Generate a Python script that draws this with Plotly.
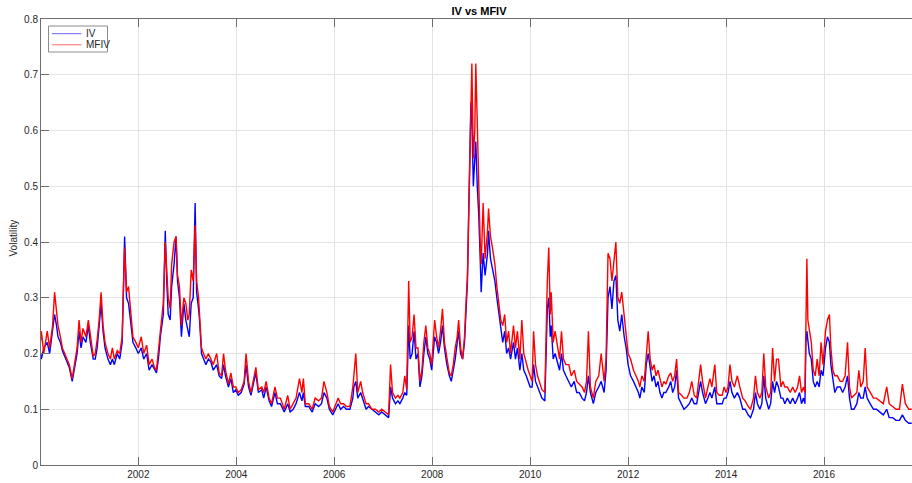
import plotly.graph_objects as go

# Sample dates as decimal years, with implied volatility (IV) and
# model-free implied volatility (MFIV) at each date.
years = [
    # 2000 - mid 2002
    2000.00, 2000.02, 2000.07, 2000.14, 2000.19, 2000.25, 2000.29, 2000.33, 2000.36, 2000.41,
    2000.45, 2000.52, 2000.59, 2000.65, 2000.69, 2000.75, 2000.79, 2000.83, 2000.87, 2000.93,
    2000.98, 2001.02, 2001.08, 2001.12, 2001.16, 2001.20, 2001.24, 2001.28, 2001.32, 2001.38,
    2001.43, 2001.47, 2001.51, 2001.57, 2001.62, 2001.67, 2001.69, 2001.72, 2001.76, 2001.80,
    2001.84, 2001.89, 2001.95, 2002.00, 2002.06, 2002.11, 2002.17, 2002.22, 2002.28, 2002.33,
    2002.37, 2002.41, 2002.45, 2002.51, 2002.55,
    # mid 2002 - 2005
    2002.58, 2002.61, 2002.65, 2002.68, 2002.73, 2002.77, 2002.80, 2002.84, 2002.88, 2002.93,
    2002.97, 2003.01, 2003.04, 2003.08, 2003.12, 2003.16, 2003.19, 2003.23, 2003.25, 2003.29,
    2003.33, 2003.38, 2003.43, 2003.48, 2003.53, 2003.60, 2003.65, 2003.70, 2003.74, 2003.78,
    2003.84, 2003.89, 2003.94, 2003.99, 2004.04, 2004.10, 2004.16, 2004.20, 2004.25, 2004.30,
    2004.36, 2004.40, 2004.45, 2004.52, 2004.56, 2004.61, 2004.67, 2004.72, 2004.79, 2004.84,
    2004.90, 2004.98, 2005.05,
    # 2005 - early 2007
    2005.10, 2005.16, 2005.22, 2005.29, 2005.34, 2005.37, 2005.41, 2005.48, 2005.55, 2005.61,
    2005.68, 2005.74, 2005.79, 2005.85, 2005.90, 2005.97, 2006.02, 2006.08, 2006.13, 2006.19,
    2006.25, 2006.32, 2006.38, 2006.40, 2006.44, 2006.48, 2006.54, 2006.58, 2006.65, 2006.70,
    2006.77, 2006.84, 2006.91, 2006.97, 2007.04, 2007.11, 2007.15, 2007.19, 2007.25, 2007.30,
    # 2007 - 2009 (crisis)
    2007.34, 2007.40, 2007.44, 2007.48, 2007.52, 2007.55, 2007.59, 2007.63, 2007.67, 2007.71,
    2007.75, 2007.79, 2007.83, 2007.87, 2007.91, 2007.95, 2007.99, 2008.05, 2008.09, 2008.13,
    2008.17, 2008.21, 2008.25, 2008.30, 2008.35, 2008.39, 2008.43, 2008.47, 2008.51, 2008.54,
    2008.58, 2008.62, 2008.66, 2008.69, 2008.72, 2008.74, 2008.77, 2008.79, 2008.81, 2008.84,
    2008.87, 2008.89, 2008.92, 2008.95, 2008.98, 2009.00, 2009.04, 2009.08, 2009.13, 2009.15,
    2009.19, 2009.23, 2009.28, 2009.32, 2009.36, 2009.40, 2009.44, 2009.48, 2009.52, 2009.56,
    2009.60, 2009.66, 2009.70, 2009.74,
    # late 2009 - 2012
    2009.79, 2009.83, 2009.87, 2009.92, 2009.96, 2010.00, 2010.04, 2010.07, 2010.11, 2010.15,
    2010.19, 2010.24, 2010.30, 2010.32, 2010.35, 2010.38, 2010.41, 2010.43, 2010.47, 2010.51,
    2010.56, 2010.60, 2010.64, 2010.68, 2010.73, 2010.79, 2010.84, 2010.90, 2010.95, 2011.00,
    2011.06, 2011.11, 2011.15, 2011.19, 2011.23, 2011.29, 2011.34, 2011.40, 2011.45, 2011.51,
    2011.55, 2011.59, 2011.63, 2011.67, 2011.71, 2011.75, 2011.79, 2011.83, 2011.87, 2011.92,
    2011.96, 2012.00, 2012.05, 2012.11, 2012.16, 2012.21,
    # 2012 - 2014
    2012.24, 2012.28, 2012.33, 2012.37, 2012.41, 2012.45, 2012.49, 2012.53, 2012.57, 2012.61,
    2012.65, 2012.69, 2012.73, 2012.77, 2012.83, 2012.87, 2012.91, 2012.95, 2012.99, 2013.03,
    2013.09, 2013.14, 2013.20, 2013.25, 2013.30, 2013.35, 2013.40, 2013.45, 2013.48, 2013.52,
    2013.58, 2013.63, 2013.67, 2013.71, 2013.77, 2013.81, 2013.86, 2013.92, 2013.96, 2014.00,
    2014.04, 2014.08, 2014.12, 2014.17, 2014.23, 2014.28, 2014.34, 2014.39, 2014.45, 2014.50,
    2014.56, 2014.60, 2014.64,
    # 2014 - 2017
    2014.69, 2014.73, 2014.77, 2014.81, 2014.87, 2014.91, 2014.95, 2014.99, 2015.03, 2015.07,
    2015.12, 2015.16, 2015.20, 2015.25, 2015.31, 2015.36, 2015.41, 2015.46, 2015.50, 2015.54,
    2015.58, 2015.61, 2015.63, 2015.65, 2015.67, 2015.70, 2015.74, 2015.78, 2015.82, 2015.86,
    2015.90, 2015.94, 2015.98, 2016.03, 2016.07, 2016.11, 2016.14, 2016.18, 2016.22, 2016.27,
    2016.33, 2016.38, 2016.43, 2016.48, 2016.52, 2016.56, 2016.61, 2016.67, 2016.71, 2016.75,
    2016.80, 2016.84, 2016.88, 2016.94, 2017.01, 2017.07, 2017.14, 2017.21, 2017.28, 2017.33,
    2017.40, 2017.47, 2017.54, 2017.60, 2017.66, 2017.73, 2017.79,
]

iv = [
    0.20, 0.19, 0.21, 0.22, 0.20, 0.24, 0.27, 0.25, 0.23, 0.22,
    0.205, 0.19, 0.175, 0.15, 0.17, 0.20, 0.24, 0.21, 0.23, 0.22,
    0.25, 0.22, 0.19, 0.19, 0.21, 0.25, 0.29, 0.24, 0.21, 0.19,
    0.18, 0.19, 0.18, 0.20, 0.19, 0.22, 0.30, 0.41, 0.30, 0.29,
    0.26, 0.22, 0.21, 0.20, 0.21, 0.19, 0.20, 0.17, 0.18, 0.17,
    0.165, 0.19, 0.23, 0.27, 0.42,

    0.33, 0.27, 0.26, 0.32, 0.36, 0.41, 0.33, 0.30, 0.23, 0.29,
    0.26, 0.24, 0.23, 0.29, 0.30, 0.47, 0.31, 0.28, 0.26, 0.20,
    0.19, 0.18, 0.19, 0.185, 0.17, 0.18, 0.16, 0.155, 0.18, 0.16,
    0.14, 0.155, 0.13, 0.135, 0.125, 0.13, 0.145, 0.18, 0.14, 0.125,
    0.15, 0.165, 0.13, 0.135, 0.12, 0.14, 0.115, 0.105, 0.13, 0.11,
    0.11, 0.095, 0.11,

    0.095, 0.10, 0.11, 0.13, 0.115, 0.13, 0.105, 0.105, 0.095, 0.11,
    0.105, 0.11, 0.13, 0.12, 0.10, 0.09, 0.10, 0.11, 0.10, 0.105,
    0.10, 0.10, 0.12, 0.14, 0.15, 0.12, 0.13, 0.12, 0.10, 0.105,
    0.10, 0.095, 0.09, 0.095, 0.09, 0.085, 0.14, 0.12, 0.11, 0.115,

    0.11, 0.12, 0.13, 0.125, 0.25, 0.19, 0.20, 0.24, 0.19, 0.20,
    0.14, 0.16, 0.20, 0.23, 0.20, 0.19, 0.17, 0.23, 0.22, 0.20,
    0.22, 0.25, 0.21, 0.18, 0.16, 0.15, 0.17, 0.19, 0.22, 0.24,
    0.20, 0.19, 0.22, 0.28, 0.33, 0.43, 0.60, 0.65, 0.62, 0.50,
    0.55, 0.58, 0.50, 0.45, 0.37, 0.31, 0.38, 0.34, 0.38, 0.42,
    0.37, 0.35, 0.33, 0.30, 0.27, 0.24, 0.22, 0.24, 0.20, 0.21,
    0.19, 0.22, 0.19, 0.21,

    0.17, 0.20, 0.17, 0.16, 0.15, 0.14, 0.14, 0.18, 0.15, 0.14,
    0.13, 0.12, 0.115, 0.18, 0.28, 0.30, 0.23, 0.25, 0.19, 0.20,
    0.18, 0.17, 0.20, 0.17, 0.16, 0.15, 0.14, 0.15, 0.13, 0.13,
    0.12, 0.115, 0.13, 0.16, 0.13, 0.11, 0.13, 0.14, 0.15, 0.13,
    0.17, 0.30, 0.32, 0.28, 0.33, 0.34, 0.26, 0.24, 0.27, 0.23,
    0.21, 0.18, 0.16, 0.15, 0.14, 0.13,

    0.12, 0.14, 0.13, 0.18, 0.20, 0.17, 0.15, 0.16, 0.14, 0.15,
    0.13, 0.12, 0.13, 0.13, 0.14, 0.15, 0.13, 0.14, 0.17, 0.12,
    0.11, 0.10, 0.105, 0.11, 0.12, 0.11, 0.11, 0.14, 0.15, 0.13,
    0.11, 0.12, 0.13, 0.12, 0.14, 0.11, 0.11, 0.11, 0.12, 0.12,
    0.13, 0.15, 0.13, 0.12, 0.13, 0.12, 0.10, 0.10, 0.09, 0.085,
    0.10, 0.13, 0.11,

    0.10, 0.11, 0.16, 0.12, 0.10, 0.11, 0.15, 0.13, 0.15, 0.14,
    0.12, 0.12, 0.11, 0.12, 0.11, 0.12, 0.11, 0.12, 0.13, 0.11,
    0.12, 0.11, 0.22, 0.24, 0.22, 0.20, 0.19, 0.15, 0.14, 0.15,
    0.14, 0.17, 0.16, 0.21, 0.23, 0.22, 0.18, 0.15, 0.13, 0.14,
    0.14, 0.13, 0.14, 0.16, 0.12, 0.10, 0.10, 0.11, 0.13, 0.12,
    0.12, 0.14, 0.12, 0.11, 0.10, 0.10, 0.095, 0.09, 0.10, 0.085,
    0.085, 0.08, 0.08, 0.09, 0.08, 0.075, 0.075,
]

mfiv = [
    0.22, 0.24, 0.20, 0.24, 0.21, 0.25, 0.31, 0.28, 0.25, 0.23,
    0.21, 0.195, 0.18, 0.155, 0.175, 0.21, 0.26, 0.22, 0.245, 0.23,
    0.26, 0.23, 0.195, 0.20, 0.225, 0.26, 0.31, 0.25, 0.22, 0.20,
    0.19, 0.21, 0.19, 0.205, 0.20, 0.23, 0.30, 0.39, 0.31, 0.32,
    0.28, 0.23, 0.22, 0.21, 0.23, 0.20, 0.215, 0.18, 0.19, 0.175,
    0.17, 0.21, 0.24, 0.29, 0.40,

    0.35, 0.30, 0.28, 0.36, 0.40, 0.41, 0.34, 0.32, 0.25, 0.30,
    0.29, 0.26, 0.27, 0.35, 0.33, 0.43, 0.33, 0.30, 0.27, 0.21,
    0.20, 0.19, 0.20, 0.19, 0.18, 0.20, 0.165, 0.16, 0.20, 0.17,
    0.145, 0.165, 0.14, 0.14, 0.13, 0.135, 0.15, 0.20, 0.15, 0.13,
    0.16, 0.175, 0.135, 0.14, 0.13, 0.15, 0.12, 0.11, 0.14, 0.12,
    0.12, 0.10, 0.125,

    0.10, 0.11, 0.12, 0.155, 0.13, 0.155, 0.11, 0.11, 0.10, 0.12,
    0.115, 0.12, 0.15, 0.13, 0.105, 0.095, 0.105, 0.12, 0.11, 0.11,
    0.105, 0.105, 0.14, 0.165, 0.20, 0.13, 0.15, 0.13, 0.11, 0.11,
    0.10, 0.10, 0.095, 0.10, 0.095, 0.09, 0.18, 0.13, 0.12, 0.125,

    0.12, 0.13, 0.16, 0.135, 0.33, 0.22, 0.23, 0.27, 0.21, 0.21,
    0.15, 0.17, 0.22, 0.25, 0.21, 0.20, 0.18, 0.26, 0.23, 0.21,
    0.24, 0.28, 0.22, 0.19, 0.165, 0.16, 0.18, 0.21, 0.23, 0.26,
    0.21, 0.19, 0.23, 0.29, 0.34, 0.42, 0.55, 0.60, 0.72, 0.55,
    0.60, 0.72, 0.60, 0.52, 0.40, 0.36, 0.47, 0.37, 0.42, 0.46,
    0.41, 0.39, 0.36, 0.32, 0.29, 0.26, 0.25, 0.27, 0.22, 0.24,
    0.20, 0.25, 0.21, 0.24,

    0.19, 0.26, 0.20, 0.18, 0.17, 0.16, 0.15, 0.24, 0.18, 0.16,
    0.15, 0.135, 0.13, 0.22, 0.33, 0.39, 0.27, 0.31, 0.22, 0.24,
    0.21, 0.19, 0.24, 0.19, 0.18, 0.18, 0.16, 0.17, 0.15, 0.145,
    0.14, 0.13, 0.15, 0.24, 0.14, 0.12, 0.15, 0.16, 0.20, 0.15,
    0.19, 0.38, 0.37, 0.33, 0.36, 0.40, 0.30, 0.29, 0.31, 0.27,
    0.23, 0.20, 0.19, 0.17, 0.16, 0.15,

    0.14, 0.16, 0.15, 0.20, 0.24, 0.19, 0.17, 0.18, 0.16, 0.17,
    0.155, 0.14, 0.15, 0.145, 0.16, 0.165, 0.15, 0.16, 0.19, 0.13,
    0.125, 0.12, 0.12, 0.13, 0.15, 0.125, 0.12, 0.16, 0.18, 0.15,
    0.12, 0.14, 0.155, 0.14, 0.18, 0.13, 0.125, 0.125, 0.14, 0.13,
    0.14, 0.18, 0.15, 0.14, 0.16, 0.14, 0.12, 0.115, 0.105, 0.10,
    0.12, 0.16, 0.13,

    0.12, 0.13, 0.20, 0.14, 0.12, 0.13, 0.21, 0.15, 0.19, 0.19,
    0.14, 0.15, 0.14, 0.14, 0.13, 0.14, 0.13, 0.14, 0.16, 0.13,
    0.14, 0.13, 0.25, 0.37, 0.26, 0.24, 0.22, 0.17, 0.16, 0.19,
    0.16, 0.22, 0.18, 0.24, 0.26, 0.27, 0.21, 0.17, 0.16, 0.16,
    0.15, 0.15, 0.16, 0.22, 0.14, 0.12, 0.125, 0.13, 0.17, 0.14,
    0.15, 0.21, 0.14, 0.13, 0.12, 0.12, 0.115, 0.11, 0.14, 0.11,
    0.105, 0.10, 0.10, 0.145, 0.11, 0.10, 0.10,
]

assert len(years) == len(iv) == len(mfiv)

x_tick_years = [2002, 2004, 2006, 2008, 2010, 2012, 2014, 2016]
y_tick_values = [0, 0.1, 0.2, 0.3, 0.4, 0.5, 0.6, 0.7, 0.8]
y_tick_labels = ["0", "0.1", "0.2", "0.3", "0.4", "0.5", "0.6", "0.7", "0.8"]

FONT = "Liberation Sans, Arial, sans-serif"
TEXT = "#262626"
AXIS = "#6e6e6e"
GRID = "#e3e3e3"
BLUE = "#0000ff"
RED = "#ff0000"

fig = go.Figure()
fig.add_trace(go.Scatter(x=years, y=iv, mode="lines", name="IV",
                         line=dict(color=BLUE, width=1.4)))
fig.add_trace(go.Scatter(x=years, y=mfiv, mode="lines", name="MFIV",
                         line=dict(color=RED, width=1.4)))

fig.update_layout(
    width=912, height=483,
    margin=dict(l=41, r=0, t=19, b=18, pad=0),
    paper_bgcolor="white", plot_bgcolor="white",
    showlegend=False,
    font=dict(family=FONT, size=10, color=TEXT),
    title=dict(text="<b>IV vs MFIV</b>", x=479 / 912, xref="container",
               xanchor="center", y=1 - 11 / 483, yanchor="middle",
               font=dict(family=FONT, size=11, color="#000000")),
)

fig.update_xaxes(
    range=[2000.013, 2017.796],
    tickvals=x_tick_years, ticktext=[str(v) for v in x_tick_years],
    ticks="inside", ticklen=8, tickwidth=1, tickcolor=AXIS,
    showline=True, linecolor=AXIS, linewidth=1, mirror="ticks",
    showgrid=True, gridcolor=GRID, gridwidth=1, zeroline=False,
    tickfont=dict(family=FONT, size=10, color=TEXT),
)
fig.update_yaxes(
    range=[0, 0.8],
    tickvals=y_tick_values, ticktext=y_tick_labels,
    ticks="inside", ticklen=8, tickwidth=1, tickcolor=AXIS,
    showline=True, linecolor=AXIS, linewidth=1, mirror=False,
    showgrid=True, gridcolor=GRID, gridwidth=1, zeroline=False,
    tickfont=dict(family=FONT, size=10, color=TEXT),
)

# Axis label
fig.add_annotation(text="Volatility", textangle=-90, xref="paper", yref="paper",
                   x=(12.5 - 41) / 871, y=(465 - 238) / 446,
                   xanchor="center", yanchor="middle", showarrow=False,
                   font=dict(family=FONT, size=10, color=TEXT))

# Legend box with line samples and labels
def px_x(px):
    return (px - 41) / 871

def px_y(py):
    return (465 - py) / 446

fig.add_shape(type="rect", xref="paper", yref="paper",
              x0=px_x(48.5), x1=px_x(107.5), y0=px_y(52), y1=px_y(26),
              line=dict(color="#8c8c8c", width=1), fillcolor="white", layer="above")
legend_items = [("IV", BLUE, 33.7), ("MFIV", RED, 44.8)]
for label, color, py in legend_items:
    fig.add_shape(type="line", xref="paper", yref="paper",
                  x0=px_x(52), x1=px_x(81.5), y0=px_y(py), y1=px_y(py),
                  line=dict(color=color, width=1), opacity=0.6, layer="above")
    fig.add_annotation(text=label, xref="paper", yref="paper",
                       x=px_x(83.5), y=px_y(py), xanchor="left", yanchor="middle",
                       showarrow=False, font=dict(family=FONT, size=10, color=TEXT))

fig.write_html("out.html")
